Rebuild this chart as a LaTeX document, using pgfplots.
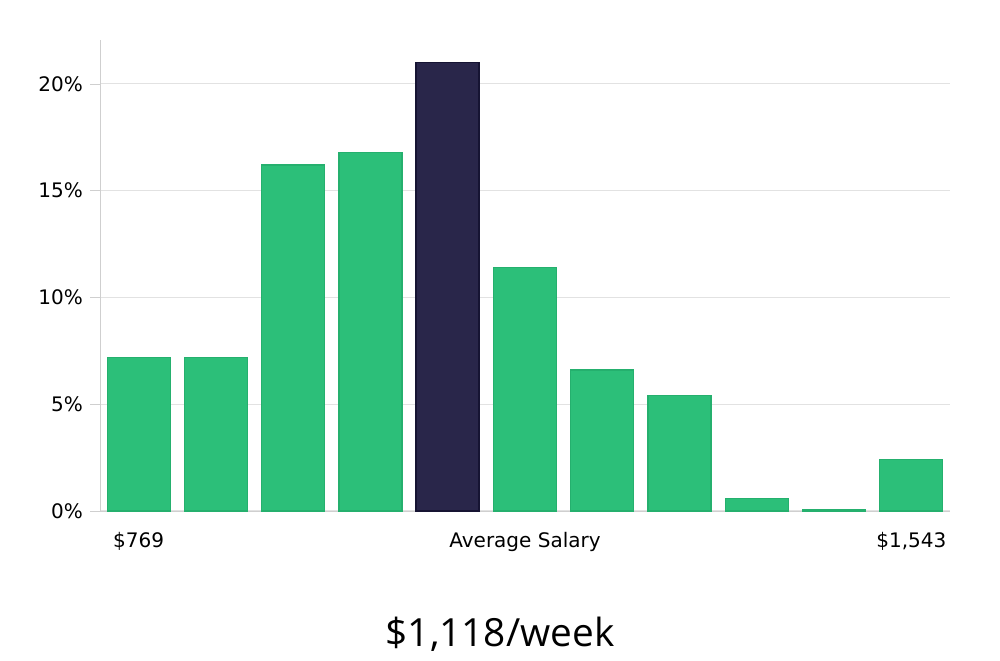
\documentclass[border=0pt]{standalone}
\usepackage{pgfplots}
\pgfplotsset{compat=1.18}
\usepackage{fontspec}
\setmainfont{DejaVu Sans}
\newfontfamily\titlefont{Open Sans}
\definecolor{barGreen}{HTML}{2CBF79}
\definecolor{barGreenEdge}{HTML}{25B06E}
\definecolor{barDark}{HTML}{29264A}
\definecolor{barDarkEdge}{HTML}{161433}
\definecolor{gridGray}{HTML}{E2E2E2}
\definecolor{axisGray}{HTML}{CFCFCF}
\begin{document}
\begin{tikzpicture}
\path[use as bounding box] (0,0) rectangle (500pt,330pt);
\begin{axis}[
    at={(50pt,74.5pt)}, anchor=south west,
    scale only axis,
    width=425pt, height=235.5pt,
    xmin=-0.5, xmax=10.5,
    ymin=0, ymax=22.05,
    axis x line*=bottom, axis y line*=left,
    axis line style={axisGray, -},
    ymajorgrids, grid style={gridGray, line width=0.6pt},
    ytick={0,5,10,15,20},
    yticklabel={\pgfmathprintnumber{\tick}\%},
    /pgf/number format/assume math mode=true,
    tick align=outside, major tick length=5pt,
    ytick style={axisGray},
    xtick={0,5,10},
    xticklabels={{\$769},{Average Salary},{\$1,543}},
    xtick style={draw=none},
    tick label style={font=\fontsize{10}{12}\selectfont},
    xticklabel style={yshift=-2pt},
    ybar, bar width=0.815, bar shift=0pt,
]
\addplot[fill=barGreen, draw=barGreenEdge, line width=0.6pt] coordinates {
  (0,7.2) (1,7.2) (2,16.2) (3,16.8) (5,11.4) (6,6.6) (7,5.4) (8,0.6) (9,0.05) (10,2.4)
};
\addplot[fill=barDark, draw=barDarkEdge, line width=0.8pt] coordinates {
  (4,21.0)
};
\end{axis}
\node[font=\titlefont\fontsize{19.4}{23}\selectfont] at (250pt,13pt) {\$1,118/week};
\end{tikzpicture}
\end{document}
